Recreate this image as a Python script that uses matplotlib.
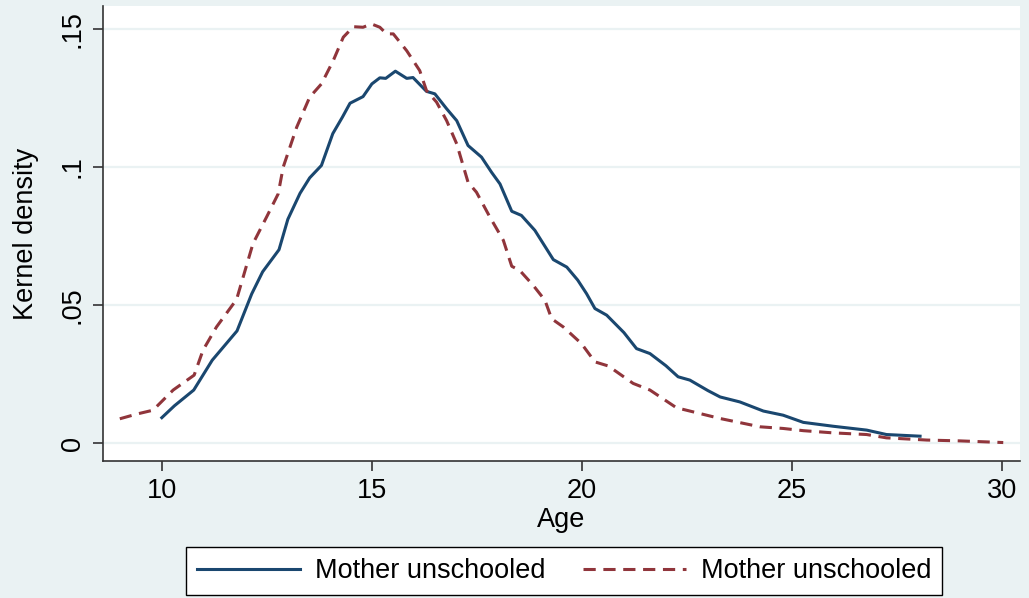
import matplotlib.pyplot as plt

plt.rcParams['font.family'] = ['Liberation Sans', 'DejaVu Sans']

# solid line: mother unschooled (group 1)
age_a = [10.0, 10.3, 10.76, 11.2, 11.79, 12.14, 12.4, 12.79, 13.0, 13.29, 13.52, 13.80,
         14.07, 14.3, 14.48, 14.79, 15.0, 15.19, 15.33, 15.56, 15.83, 15.98, 16.30,
         16.50, 16.78, 17.02, 17.29, 17.61, 17.85, 18.05, 18.33, 18.56, 18.88, 19.32,
         19.64, 19.9, 20.11, 20.31, 20.59, 21.0, 21.30, 21.62, 22.0, 22.29, 22.57,
         23.0, 23.29, 23.76, 24.32, 24.79, 25.27, 25.98, 26.78, 27.25, 28.05]
dens_a = [0.0092, 0.0135, 0.0192, 0.0300, 0.0406, 0.0540, 0.0620, 0.0700, 0.0810,
          0.0904, 0.0960, 0.1005, 0.1120, 0.1180, 0.1230, 0.1254, 0.1300, 0.1322,
          0.1320, 0.1346, 0.1320, 0.1323, 0.1273, 0.1264, 0.1210, 0.1167, 0.1077,
          0.1035, 0.0980, 0.0938, 0.0839, 0.0824, 0.0770, 0.0664, 0.0637, 0.0590,
          0.0541, 0.0487, 0.0463, 0.0400, 0.0342, 0.0324, 0.0280, 0.0240, 0.0228,
          0.0190, 0.0167, 0.0149, 0.0116, 0.0101, 0.0075, 0.0061, 0.0047, 0.0031,
          0.0025]

# dashed line: mother unschooled (group 2)
age_b = [9.0, 9.4, 9.79, 10.27, 10.77, 10.98, 11.3, 11.78, 12.17, 12.5, 12.77, 12.89,
         13.21, 13.52, 13.80, 14.08, 14.32, 14.56, 14.79, 14.99, 15.19, 15.35, 15.51,
         15.83, 16.14, 16.30, 16.54, 16.78, 17.02, 17.29, 17.49, 17.81, 18.13, 18.33,
         18.52, 18.84, 19.12, 19.28, 19.56, 19.99, 20.31, 20.63, 21.22, 21.62, 22.25,
         22.81, 23.29, 24.24, 24.79, 25.27, 25.98, 26.78, 27.25, 28.21, 29.0, 30.03]
dens_b = [0.0088, 0.0105, 0.0119, 0.0192, 0.0246, 0.0336, 0.0420, 0.0520, 0.0722,
          0.0820, 0.0902, 0.0999, 0.1143, 0.1252, 0.1300, 0.1384, 0.1469, 0.1507,
          0.1505, 0.1517, 0.1505, 0.1481, 0.1481, 0.1420, 0.1348, 0.1276, 0.1234,
          0.1167, 0.1083, 0.0944, 0.0908, 0.0818, 0.0734, 0.0640, 0.0625, 0.0571,
          0.0517, 0.0450, 0.0420, 0.0360, 0.0294, 0.0279, 0.0216, 0.0192, 0.0128,
          0.0107, 0.0089, 0.0059, 0.0053, 0.0045, 0.0037, 0.0031, 0.0019, 0.0011,
          0.0008, 0.0002]

x_ticks = [10, 15, 20, 25, 30]
y_ticks = [0, 0.05, 0.1, 0.15]
y_tick_labels = ['0', '.05', '.1', '.15']
series_labels = ['Mother unschooled', 'Mother unschooled']

bg = '#EAF2F3'
blue = '#1A476F'
red = '#90353B'
fs = 19.5

fig = plt.figure(figsize=(10.29, 5.98), dpi=100, facecolor=bg)
ax = fig.add_axes([0.1001, 0.229, 0.8912, 0.761])
ax.set_facecolor('white')

ax.plot(age_a, dens_a, color=blue, lw=2.2, label=series_labels[0])
ax.plot(age_b, dens_b, color=red, lw=2.2, dashes=(4, 2.5), label=series_labels[1])

ax.set_xlim(8.6, 30.43)
ax.set_ylim(-0.0065, 0.1582)

ax.set_xticks(x_ticks)
ax.set_xticklabels([str(t) for t in x_ticks], fontsize=fs)
ax.set_yticks(y_ticks)
ax.set_yticklabels(y_tick_labels, fontsize=fs, rotation=90, va='center')

ax.grid(axis='y', color=bg, lw=1.6)
ax.set_axisbelow(True)
for s in ['top', 'right']:
    ax.spines[s].set_visible(False)
for s in ['left', 'bottom']:
    ax.spines[s].set_color('#333333')
    ax.spines[s].set_linewidth(1.2)
ax.tick_params(length=7.5, width=1.2, color='#333333', pad=5)

ax.set_xlabel('Age', fontsize=fs, labelpad=2)
ax.set_ylabel('Kernel density', fontsize=fs, labelpad=15)

leg = fig.legend(loc='center', bbox_to_anchor=(564 / 1029, 1 - 571 / 598), ncol=2,
                 fontsize=fs, frameon=True, fancybox=False, handlelength=3.8,
                 handletextpad=0.55, columnspacing=1.4, borderpad=0.4,
                 edgecolor='black', framealpha=1)
leg.get_frame().set_linewidth(1.0)

plt.savefig('out.png', dpi=100, facecolor=bg)
